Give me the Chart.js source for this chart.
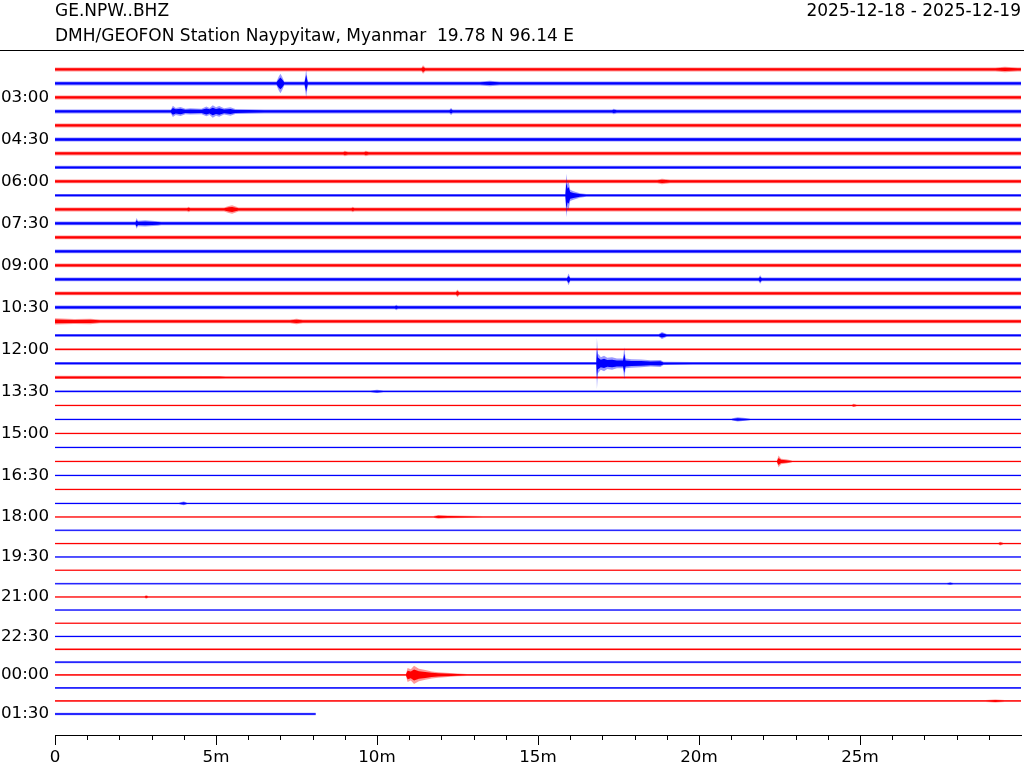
<!DOCTYPE html>
<html>
<head>
<meta charset="utf-8">
<script src="https://cdn.jsdelivr.net/npm/chart.js@4.4.1/dist/chart.umd.min.js"></script>
<style>
  body { margin: 0; background: #fff; overflow: hidden; }
  #wrap { position: relative; width: 1024px; height: 768px; }
  .hdr { position: absolute; font: 17px "DejaVu Sans", sans-serif; color: #000; white-space: pre; line-height: 19px; }
  #rule { position: absolute; left: 0; top: 50px; width: 1024px; height: 1px; background: #000; }
  canvas { position: absolute; left: 0; top: 0; }
</style>
</head>
<body>
<div id="wrap">
  <canvas id="heli" width="1024" height="768"></canvas>
  <div class="hdr" style="left:55px; top:1px;">GE.NPW..BHZ</div>
  <div class="hdr" style="left:55px; top:26px;">DMH/GEOFON Station Naypyitaw, Myanmar  19.78 N 96.14 E</div>
  <div class="hdr" style="right:3px; top:1px;">2025-12-18 - 2025-12-19</div>
  <div id="rule"></div>
</div>
<script>
const rowLabels = ['03:00', '04:30', '06:00', '07:30', '09:00', '10:30', '12:00', '13:30',
                   '15:00', '16:30', '18:00', '19:30', '21:00', '22:30', '00:00', '01:30'];
const labelRows = [2, 5, 8, 11, 14, 17, 20, 23, 26, 29, 32, 35, 38, 41, 44, 47];

// nivel medio de cada traço (em unidades de linha)
const traceLevel = [0, 1, 2, 3, 4, 5, 6, 7, 8, 9, 10, 11, 12, 13, 14, 15,
                    16, 17, 18, 19, 20, 21, 22, 23, 24, 25, 26, 27, 28, 29, 30, 31,
                    31.96, 32.92, 33.87, 34.82, 35.77, 36.73, 37.68, 38.62,
                    39.56, 40.5, 41.42, 42.34, 43.25, 44.18, 45.11, 46.04];

// amplitude do ruido de fundo (meia largura, unidades de linha)
const noiseAmp = [0.14, 0.14, 0.14, 0.14, 0.14, 0.145, 0.14, 0.12, 0.135, 0.1, 0.14, 0.135,
                  0.135, 0.13, 0.135, 0.13, 0.135, 0.13, 0.135, 0.1, 0.08, 0.1, 0.085, 0.07,
                  0.06, 0.06, 0.06, 0.06, 0.06, 0.06, 0.06, 0.06,
                  0.06, 0.06, 0.06, 0.06, 0.06, 0.06, 0.06, 0.06,
                  0.06, 0.065, 0.07, 0.07, 0.07, 0.075, 0.075, 0.085];

const traceEnd = 30;
const lastTraceEnd = 8.1; // o ultimo traço termina aqui

// eventos: [linha, [[minuto, amplitude], ...]]  (null = nivel de ruido)
const events = [
  [0,  [[11.38, null], [11.43, 0.3], [11.5, null], [29.2, null], [29.5, 0.2], [29.9, null]]],
  [1,  [[6.88, null], [6.95, 0.5], [7.0, 0.7], [7.05, 0.5], [7.12, null], [7.75, null], [7.8, 1.0], [7.85, null],
        [13.2, null], [13.5, 0.2], [13.8, null]]],
  [3,  [[3.6, null], [3.66, 0.4], [3.75, 0.25], [3.9, 0.32], [4.05, 0.2], [4.2, 0.22], [4.55, 0.2],
        [4.7, 0.35], [4.8, 0.25], [4.9, 0.45], [5.0, 0.3], [5.1, 0.38], [5.25, 0.22], [5.45, 0.3],
        [5.6, 0.18], [6.0, 0.16], [6.5, null], [12.25, null], [12.3, 0.25], [12.35, null],
        [17.3, null], [17.35, 0.2], [17.45, null]]],
  [6,  [[8.95, null], [9.0, 0.2], [9.1, null], [9.6, null], [9.65, 0.2], [9.75, null]]],
  [8,  [[18.7, null], [18.85, 0.2], [19.1, null]]],
  [9,  [[15.85, null], [15.88, 1.55], [15.92, 0.8], [15.95, 1.0], [16.0, 0.4], [16.1, 0.3], [16.3, 0.16], [16.5, null]]],
  [10, [[4.1, null], [4.15, 0.2], [4.2, null], [5.25, null], [5.4, 0.25], [5.5, 0.3], [5.7, null],
        [9.2, null], [9.25, 0.2], [9.3, null]]],
  [11, [[2.5, null], [2.53, 0.38], [2.58, 0.2], [2.8, 0.22], [3.2, 0.16], [3.3, null]]],
  [15, [[15.9, null], [15.95, 0.42], [16.0, null], [21.85, null], [21.9, 0.3], [21.95, null]]],
  [16, [[12.45, null], [12.5, 0.28], [12.55, null]]],
  [17, [[10.55, null], [10.6, 0.2], [10.65, null]]],
  [18, [[0, 0.22], [0.6, 0.18], [1.1, 0.2], [1.4, null], [7.3, null], [7.5, 0.2], [7.7, null]]],
  [19, [[18.75, null], [18.85, 0.25], [19.0, null]]],
  [21, [[16.81, null], [16.83, 1.82], [16.86, 0.7], [16.9, 0.6], [16.95, 0.45], [17.05, 0.55],
        [17.15, 0.4], [17.3, 0.45], [17.45, 0.35], [17.64, 0.35], [17.68, 1.15], [17.72, 0.35],
        [17.9, 0.3], [18.2, 0.28], [18.5, 0.22], [18.8, 0.25], [18.9, 0.12], [19.8, null]]],
  [22, [[0, 0.12], [5.1, 0.11], [5.3, null]]],
  [23, [[9.8, null], [10.0, 0.12], [10.2, null]]],
  [24, [[24.75, null], [24.8, 0.12], [24.9, null]]],
  [25, [[21.0, null], [21.2, 0.15], [21.6, null]]],
  [28, [[22.42, null], [22.47, 0.42], [22.55, 0.2], [22.7, 0.15], [22.9, null]]],
  [31, [[3.85, null], [4.0, 0.13], [4.1, null]]],
  [32, [[11.75, null], [11.9, 0.13], [12.2, 0.09], [13.3, null]]],
  [34, [[29.3, null], [29.35, 0.13], [29.45, null]]],
  [37, [[27.7, null], [27.8, 0.1], [27.9, null]]],
  [38, [[2.78, null], [2.83, 0.13], [2.9, null]]],
  [44, [[10.9, null], [10.95, 0.5], [11.05, 0.4], [11.15, 0.65], [11.3, 0.45], [11.5, 0.35],
        [11.7, 0.25], [11.9, 0.2], [12.5, 0.1], [12.8, null]]],
  [46, [[28.9, null], [29.2, 0.11], [29.5, null]]]
];

const minorTicks = [1, 2, 3, 4, 6, 7, 8, 9, 11, 12, 13, 14, 16, 17, 18, 19, 21, 22, 23, 24, 26, 27, 28, 29];
const cores = ['#ff0000', '#0000ff'];
const coresClaras = ['rgba(255,0,0,0.4)', 'rgba(0,0,255,0.4)'];

/**
 * Monta os contornos de cada traço: faixa externa (clara) e nucleo (cor cheia).
 */
function montarDatasets() {
  const externos = [];
  const nucleos = [];
  traceLevel.forEach((nivel, i) => {
    const fim = i === traceLevel.length - 1 ? lastTraceEnd : traceEnd;
    const ev = events.find(e => e[0] === i);
    let pts = ev ? ev[1].slice() : [];
    if (!pts.length || pts[0][0] > 0) pts.unshift([0, null]);
    pts.push([fim, null]);
    pts = pts.filter(p => p[0] <= fim).sort((a, b) => a[0] - b[0]);

    const amp = p => (p[1] === null ? noiseAmp[i] : p[1]);
    const faixa = (lista, fator, cor) => {
      lista.push({
        data: pts.map(p => ({ x: p[0], y: nivel - amp(p) * fator })),
        borderWidth: 0, pointRadius: 0, fill: false, backgroundColor: cor
      });
      lista.push({
        data: pts.map(p => ({ x: p[0], y: nivel + amp(p) * fator })),
        borderWidth: 0, pointRadius: 0, fill: '-1', backgroundColor: cor
      });
    };
    faixa(externos, 1, coresClaras[i % 2]);
    faixa(nucleos, 0.6, cores[i % 2]);
  });
  return externos.concat(nucleos);
}

// risquinhos menores do eixo x (1 em 1 minuto)
const minorTickPlugin = {
  id: 'minorTicks',
  afterDraw(chart) {
    const sx = chart.scales.x;
    const c = chart.ctx;
    const y0 = chart.chartArea.bottom;
    c.save();
    c.strokeStyle = '#000';
    c.lineWidth = 1;
    minorTicks.forEach(m => {
      const px = Math.round(sx.getPixelForValue(m)) + 0.5;
      c.beginPath();
      c.moveTo(px, y0);
      c.lineTo(px, y0 + 5);
      c.stroke();
    });
    c.restore();
  }
};

Chart.defaults.font.family = '"DejaVu Sans", sans-serif';
Chart.defaults.font.size = 16.7;
Chart.defaults.color = '#000';

new Chart(document.getElementById('heli'), {
  type: 'line',
  data: { datasets: montarDatasets() },
  options: {
    responsive: false,
    animation: false,
    layout: { padding: { top: 49, right: 1, left: 0, bottom: 0 } },
    plugins: { legend: { display: false }, tooltip: { enabled: false } },
    elements: { line: { tension: 0 } },
    scales: {
      x: {
        type: 'linear', min: 0, max: 30,
        border: { display: true, color: '#000', width: 1 },
        grid: {
          drawOnChartArea: false, tickLength: 10,
          tickColor: ctx => (ctx.tick && ctx.tick.value >= 30 ? 'rgba(0,0,0,0)' : '#000')
        },
        ticks: {
          stepSize: 5, padding: 3, maxRotation: 0, autoSkip: false,
          callback: v => (v === 0 ? '0' : v < 30 ? v + 'm' : '')
        },
        afterFit: s => { s.height = 33; }
      },
      y: {
        type: 'linear', reverse: true, min: -1.46, max: 47.54,
        border: { display: false },
        grid: { display: false, drawTicks: false },
        afterBuildTicks: s => { s.ticks = labelRows.map(r => ({ value: traceLevel[r] })); },
        ticks: { padding: 6, autoSkip: false, callback: (v, idx) => rowLabels[idx] },
        afterFit: s => { s.width = 55; }
      }
    }
  },
  plugins: [minorTickPlugin]
});
</script>
</body>
</html>
